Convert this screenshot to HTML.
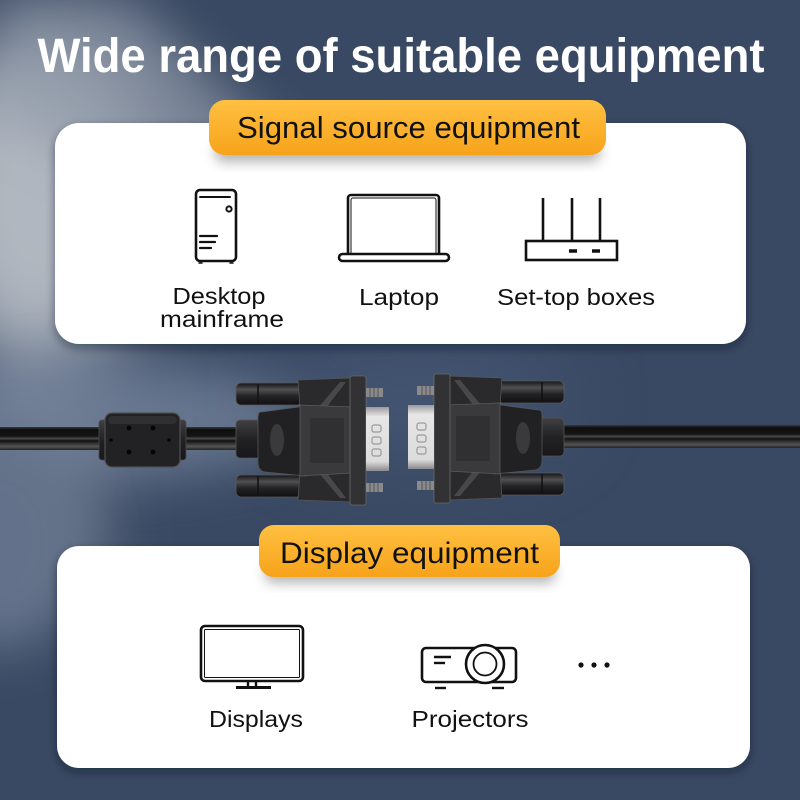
<!DOCTYPE html>
<html><head><meta charset="utf-8"><style>
html,body{margin:0;padding:0;width:800px;height:800px;overflow:hidden;background:#3a4963;}
svg{display:block}
</style></head><body>
<svg width="800" height="800" viewBox="0 0 800 800" xmlns="http://www.w3.org/2000/svg">
<defs>
  <filter id="b40" x="-100%" y="-100%" width="300%" height="300%"><feGaussianBlur stdDeviation="40"/></filter>
  <filter id="b25" x="-100%" y="-100%" width="300%" height="300%"><feGaussianBlur stdDeviation="25"/></filter>
  <filter id="b8" x="-50%" y="-50%" width="200%" height="200%"><feGaussianBlur stdDeviation="6"/></filter>
  <filter id="cs" x="-10%" y="-10%" width="120%" height="130%"><feDropShadow dx="0" dy="4" stdDeviation="5" flood-color="#101828" flood-opacity="0.45"/></filter>
  <linearGradient id="pill" x1="0" y1="0" x2="0" y2="1">
    <stop offset="0" stop-color="#ffc042"/><stop offset="1" stop-color="#f7a31a"/>
  </linearGradient>
  <linearGradient id="silver" x1="0" y1="0" x2="0" y2="1">
    <stop offset="0" stop-color="#9a9a9c"/><stop offset="0.15" stop-color="#e6e6e6"/><stop offset="0.85" stop-color="#dcdcdc"/><stop offset="1" stop-color="#8a8a8c"/>
  </linearGradient>
  <linearGradient id="cable" x1="0" y1="0" x2="0" y2="1">
    <stop offset="0" stop-color="#3a3a3a"/><stop offset="0.12" stop-color="#0e0e0e"/><stop offset="0.4" stop-color="#151515"/><stop offset="0.5" stop-color="#4a4a4a"/><stop offset="0.6" stop-color="#121212"/><stop offset="0.85" stop-color="#555"/><stop offset="1" stop-color="#222"/>
  </linearGradient>
  <linearGradient id="dark" x1="0" y1="0" x2="0" y2="1">
    <stop offset="0" stop-color="#404042"/><stop offset="0.5" stop-color="#222224"/><stop offset="1" stop-color="#18181a"/>
  </linearGradient>
  <linearGradient id="screw" x1="0" y1="0" x2="0" y2="1">
    <stop offset="0" stop-color="#151517"/><stop offset="0.3" stop-color="#505052"/><stop offset="0.6" stop-color="#222224"/><stop offset="1" stop-color="#121214"/>
  </linearGradient>
  <linearGradient id="leftfade" x1="0" y1="0" x2="1" y2="0">
    <stop offset="0" stop-color="#8c97a7" stop-opacity="0.85"/><stop offset="1" stop-color="#8c97a7" stop-opacity="0"/>
  </linearGradient>
</defs>

<!-- background -->
<rect width="800" height="800" fill="#3a4963"/>
<rect x="0" y="60" width="140" height="520" fill="url(#leftfade)" filter="url(#b25)"/>
<ellipse cx="40" cy="200" rx="120" ry="160" fill="#b0b7c0" filter="url(#b40)"/>
<polygon points="0,0 130,0 330,190 300,260 0,120" fill="#8f99a8" opacity="0.7" filter="url(#b25)"/>
<ellipse cx="90" cy="420" rx="220" ry="60" fill="#72819a" opacity="0.8" filter="url(#b25)"/>
<ellipse cx="0" cy="540" rx="90" ry="110" fill="#64728a" filter="url(#b25)"/>
<ellipse cx="420" cy="400" rx="150" ry="60" fill="#4a5d7c" opacity="0.6" filter="url(#b40)"/>

<!-- title -->
<text x="401" y="72" text-anchor="middle" font-family="Liberation Sans, sans-serif" font-weight="bold" font-size="48" fill="#ffffff" textLength="727" lengthAdjust="spacingAndGlyphs">Wide range of suitable equipment</text>

<!-- top card -->
<rect x="55" y="123" width="691" height="221" rx="24" fill="#ffffff" filter="url(#cs)"/>
<rect x="215" y="142" width="385" height="20" rx="8" fill="#6a6a6a" opacity="0.5" filter="url(#b8)"/>
<rect x="209" y="100" width="397" height="55" rx="16" fill="url(#pill)"/>
<text x="408.5" y="138" text-anchor="middle" font-family="Liberation Sans, sans-serif" font-size="31" fill="#111" textLength="343" lengthAdjust="spacingAndGlyphs">Signal source equipment</text>

<!-- desktop icon -->
<g fill="none" stroke="#111" stroke-width="2.6" stroke-linecap="round">
  <rect x="196" y="190" width="40" height="71" rx="4"/>
  <line x1="200" y1="197" x2="230" y2="197" stroke-width="2"/>
  <circle cx="229" cy="209" r="2.6" stroke-width="2"/>
  <line x1="200" y1="236" x2="217" y2="236" stroke-width="2.2"/>
  <line x1="200" y1="242" x2="215" y2="242" stroke-width="2.2"/>
  <line x1="200" y1="248" x2="211" y2="248" stroke-width="2.2"/>
  <line x1="199" y1="263" x2="202" y2="263" stroke-width="1.5"/>
  <line x1="230" y1="263" x2="233" y2="263" stroke-width="1.5"/>
</g>
<!-- laptop icon -->
<g fill="none" stroke="#111" stroke-linejoin="round">
  <path d="M348 254 V198 a3 3 0 0 1 3 -3 H436 a3 3 0 0 1 3 3 V254" stroke-width="2.6"/>
  <path d="M351 253 V200 a2 2 0 0 1 2 -2 H434 a2 2 0 0 1 2 2 V253" stroke-width="1"/>
  <rect x="339" y="254" width="110" height="7" rx="3.5" stroke-width="2.6"/>
</g>
<!-- router icon -->
<g fill="none" stroke="#111" stroke-width="2.6">
  <rect x="526" y="241" width="91" height="19"/>
  <line x1="543" y1="198" x2="543" y2="241"/>
  <line x1="572" y1="198" x2="572" y2="241"/>
  <line x1="600" y1="198" x2="600" y2="241"/>
  <line x1="569" y1="251" x2="577" y2="251" stroke-width="3.5"/>
  <line x1="592" y1="251" x2="600" y2="251" stroke-width="3.5"/>
</g>

<g font-family="Liberation Sans, sans-serif" font-size="23" fill="#111">
  <text x="219" y="304" text-anchor="middle" textLength="93" lengthAdjust="spacingAndGlyphs">Desktop</text>
  <text x="222" y="327" text-anchor="middle" textLength="124" lengthAdjust="spacingAndGlyphs">mainframe</text>
  <text x="399" y="305" text-anchor="middle" textLength="80" lengthAdjust="spacingAndGlyphs">Laptop</text>
  <text x="576" y="305" text-anchor="middle" textLength="158" lengthAdjust="spacingAndGlyphs">Set-top boxes</text>
</g>

<!-- cables -->
<rect x="0" y="427" width="240" height="23" fill="url(#cable)"/>
<rect x="560" y="425" width="240" height="23" fill="url(#cable)"/>

<!-- ferrite -->
<g>
  <rect x="99" y="420" width="10" height="40" rx="3" fill="url(#dark)" stroke="#4a4a4a" stroke-width="0.8"/>
  <rect x="176" y="420" width="10" height="40" rx="3" fill="url(#dark)" stroke="#4a4a4a" stroke-width="0.8"/>
  <rect x="105" y="413" width="75" height="54" rx="7" fill="#222224" stroke="#505052" stroke-width="1.2"/>
  <rect x="108" y="416" width="69" height="8" rx="4" fill="#303032"/>
  <g fill="#050505">
    <circle cx="129" cy="428" r="2.4"/><circle cx="153" cy="428" r="2.4"/>
    <circle cx="129" cy="452" r="2.4"/><circle cx="153" cy="452" r="2.4"/>
    <circle cx="111" cy="440" r="1.8"/><circle cx="169" cy="440" r="1.8"/>
  </g>
</g>

<!-- left connector -->
<g>
  <rect x="236" y="383" width="66" height="22" rx="5" fill="url(#screw)" stroke="#5a5a5a" stroke-width="0.8"/>
  <rect x="236" y="475" width="66" height="22" rx="5" fill="url(#screw)" stroke="#5a5a5a" stroke-width="0.8"/>
  <line x1="258" y1="384" x2="258" y2="404" stroke="#111" stroke-width="1.5"/>
  <line x1="258" y1="476" x2="258" y2="496" stroke="#111" stroke-width="1.5"/>
  <polygon points="298,380 352,378 352,408 300,408" fill="#2a2a2c" stroke="#555" stroke-width="0.8"/>
  <polygon points="298,500 352,502 352,472 300,472" fill="#2a2a2c" stroke="#555" stroke-width="0.8"/>
  <polygon points="318,408 340,382 346,382 326,408" fill="#48484a"/>
  <polygon points="318,472 340,498 346,498 326,472" fill="#48484a"/>
  <rect x="236" y="420" width="26" height="38" rx="4" fill="url(#dark)" stroke="#555" stroke-width="0.8"/>
  <path d="M262 412 Q258 411 258 418 V462 Q258 471 265 472 L306 476 V406 Z" fill="#212123" stroke="#555" stroke-width="0.8"/>
  <ellipse cx="277" cy="440" rx="7" ry="16" fill="#3a3a3c"/>
  <path d="M300 405 L352 407 V473 L300 476 Z" fill="#3a3a3c" stroke="#5a5a5c" stroke-width="0.8"/>
  <rect x="310" y="418" width="34" height="45" fill="#303032"/>
  <rect x="350" y="376" width="16" height="129" rx="2" fill="#323234" stroke="#6a6a6a" stroke-width="0.8"/>
  <rect x="366" y="388" width="17" height="9" fill="#8a8a8c"/>
  <rect x="366" y="483" width="17" height="9" fill="#8a8a8c"/>
  <g stroke="#555" stroke-width="1">
    <line x1="370" y1="388" x2="370" y2="397"/><line x1="374" y1="388" x2="374" y2="397"/><line x1="378" y1="388" x2="378" y2="397"/>
    <line x1="370" y1="483" x2="370" y2="492"/><line x1="374" y1="483" x2="374" y2="492"/><line x1="378" y1="483" x2="378" y2="492"/>
  </g>
  <rect x="366" y="407" width="23" height="64" fill="url(#silver)"/>
  <g fill="none" stroke="#9a9a9a" stroke-width="1.2">
    <rect x="372" y="425" width="9" height="7" rx="2"/>
    <rect x="372" y="437" width="9" height="7" rx="2"/>
    <rect x="372" y="449" width="9" height="7" rx="2"/>
  </g>
</g>
<!-- right connector (mirrored) -->
<g transform="translate(800 -2) scale(-1 1)">
  <rect x="236" y="383" width="66" height="22" rx="5" fill="url(#screw)" stroke="#5a5a5a" stroke-width="0.8"/>
  <rect x="236" y="475" width="66" height="22" rx="5" fill="url(#screw)" stroke="#5a5a5a" stroke-width="0.8"/>
  <line x1="258" y1="384" x2="258" y2="404" stroke="#111" stroke-width="1.5"/>
  <line x1="258" y1="476" x2="258" y2="496" stroke="#111" stroke-width="1.5"/>
  <polygon points="298,380 352,378 352,408 300,408" fill="#2a2a2c" stroke="#555" stroke-width="0.8"/>
  <polygon points="298,500 352,502 352,472 300,472" fill="#2a2a2c" stroke="#555" stroke-width="0.8"/>
  <polygon points="318,408 340,382 346,382 326,408" fill="#48484a"/>
  <polygon points="318,472 340,498 346,498 326,472" fill="#48484a"/>
  <rect x="236" y="420" width="26" height="38" rx="4" fill="url(#dark)" stroke="#555" stroke-width="0.8"/>
  <path d="M262 412 Q258 411 258 418 V462 Q258 471 265 472 L306 476 V406 Z" fill="#212123" stroke="#555" stroke-width="0.8"/>
  <ellipse cx="277" cy="440" rx="7" ry="16" fill="#3a3a3c"/>
  <path d="M300 405 L352 407 V473 L300 476 Z" fill="#3a3a3c" stroke="#5a5a5c" stroke-width="0.8"/>
  <rect x="310" y="418" width="34" height="45" fill="#303032"/>
  <rect x="350" y="376" width="16" height="129" rx="2" fill="#323234" stroke="#6a6a6a" stroke-width="0.8"/>
  <rect x="366" y="388" width="17" height="9" fill="#8a8a8c"/>
  <rect x="366" y="483" width="17" height="9" fill="#8a8a8c"/>
  <g stroke="#555" stroke-width="1">
    <line x1="370" y1="388" x2="370" y2="397"/><line x1="374" y1="388" x2="374" y2="397"/><line x1="378" y1="388" x2="378" y2="397"/>
    <line x1="370" y1="483" x2="370" y2="492"/><line x1="374" y1="483" x2="374" y2="492"/><line x1="378" y1="483" x2="378" y2="492"/>
  </g>
  <rect x="366" y="407" width="26" height="64" fill="url(#silver)"/>
  <g fill="none" stroke="#9a9a9a" stroke-width="1.2">
    <rect x="374" y="425" width="9" height="7" rx="2"/>
    <rect x="374" y="437" width="9" height="7" rx="2"/>
    <rect x="374" y="449" width="9" height="7" rx="2"/>
  </g>
</g>

<!-- bottom card -->
<rect x="57" y="546" width="693" height="222" rx="22" fill="#ffffff" filter="url(#cs)"/>
<rect x="265" y="563" width="290" height="20" rx="8" fill="#6a6a6a" opacity="0.5" filter="url(#b8)"/>
<rect x="259" y="525" width="301" height="52" rx="15" fill="url(#pill)"/>
<text x="409.5" y="563" text-anchor="middle" font-family="Liberation Sans, sans-serif" font-size="30" fill="#111" textLength="259" lengthAdjust="spacingAndGlyphs">Display equipment</text>

<!-- monitor icon -->
<g fill="none" stroke="#111" stroke-linejoin="round">
  <rect x="201" y="626" width="102" height="55" rx="4" stroke-width="2.6"/>
  <rect x="204.5" y="629.5" width="95" height="48" rx="1" stroke-width="1"/>
  <path d="M248 681 V687 M256 681 V687" stroke-width="2.4"/>
  <line x1="236" y1="687.5" x2="271" y2="687.5" stroke-width="3"/>
</g>
<!-- projector icon -->
<g fill="none" stroke="#111" stroke-linejoin="round">
  <rect x="422" y="648" width="94" height="34" rx="4" stroke-width="2.6"/>
  <circle cx="485" cy="664" r="19" fill="#fff" stroke-width="2.6"/>
  <circle cx="485" cy="664" r="11.5" stroke-width="1.8"/>
  <line x1="434" y1="657" x2="451" y2="657" stroke-width="2.4"/>
  <line x1="434" y1="663" x2="445" y2="663" stroke-width="2.4"/>
  <line x1="435" y1="688" x2="446" y2="688" stroke-width="2.4"/>
  <line x1="492" y1="688" x2="504" y2="688" stroke-width="2.4"/>
</g>
<g fill="#111">
  <circle cx="581" cy="665" r="2.6"/><circle cx="594" cy="665" r="2.6"/><circle cx="607" cy="665" r="2.6"/>
</g>
<g font-family="Liberation Sans, sans-serif" font-size="23" fill="#111">
  <text x="256" y="727" text-anchor="middle" textLength="94" lengthAdjust="spacingAndGlyphs">Displays</text>
  <text x="470" y="727" text-anchor="middle" textLength="117" lengthAdjust="spacingAndGlyphs">Projectors</text>
</g>
</svg>
</body></html>
